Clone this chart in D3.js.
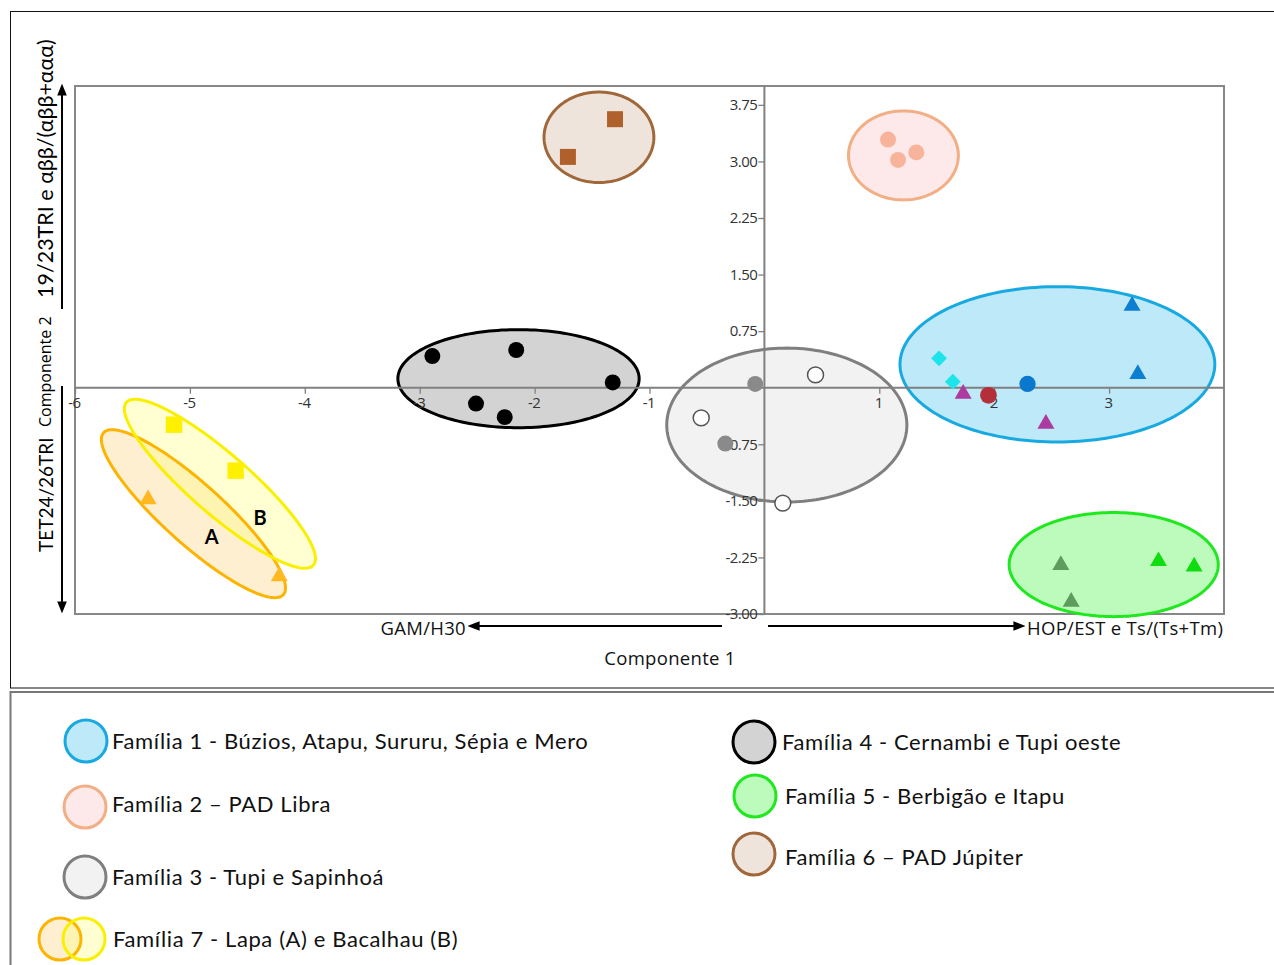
<!DOCTYPE html>
<html>
<head>
<meta charset="utf-8">
<script src="https://cdn.jsdelivr.net/npm/d3@7"></script>
<style>
  body { margin: 0; background: #fff; }
  svg { display: block; }
</style>
</head>
<body>
<svg id="chart" width="1274" height="965"></svg>
<script>
// ---- PCA scores (Componente 1, Componente 2) per family / sample group ----
const fam1BlueTriangles   = [[3.20, 1.085], [3.25, 0.18]];
const fam1BlueCircle      = [[2.29, 0.05]];
const fam1CyanDiamonds    = [[1.52, 0.39], [1.64, 0.08]];
const fam1PurpleTriangles = [[1.73, -0.08], [2.45, -0.48]];
const fam1RedCircle       = [[1.95, -0.10]];
const fam2Circles         = [[1.076, 3.29], [1.322, 3.12], [1.163, 3.02]];
const fam3FilledCircles   = [[-0.08, 0.05], [-0.34, -0.74]];
const fam3OpenCircles     = [[0.445, 0.17], [-0.55, -0.40], [0.16, -1.53]];
const fam4Circles         = [[-2.89, 0.42], [-2.16, 0.50], [-1.32, 0.07], [-2.51, -0.21], [-2.26, -0.39]];
const fam5DarkTriangles   = [[2.58, -2.35], [2.67, -2.84]];
const fam5BrightTriangles = [[3.43, -2.30], [3.74, -2.37]];
const fam6Squares         = [[-1.30, 3.56], [-1.71, 3.06]];
const fam7ATriangles      = [[-5.364, -1.48], [-4.222, -2.50]];
const fam7BSquares        = [[-5.138, -0.49], [-4.602, -1.10]];

// ---- Grouping ellipses: centre and two half-axis vectors, in score units ----
const ellipseKeys    = ["f1", "f2", "f3", "f4", "f5", "f6", "f7A", "f7B"];
const ellipseCenterX = [2.55, 1.21, 0.195, -2.14, 3.04, -1.44, -4.969, -4.739];
const ellipseCenterY = [0.31, 3.08, -0.495, 0.12, -2.345, 3.32, -1.670, -1.273];
const ellipseAxisU   = [[1.37, 0], [0.478, 0], [1.045, 0], [1.05, 0], [0.91, 0], [0.478, 0], [0.782, -1.074], [0.814, -1.079]];
const ellipseAxisV   = [[0, 1.03], [0, 0.59], [0, 1.02], [0, 0.65], [0, 0.69], [0, 0.60], [-0.1746, -0.2956], [-0.171, -0.300]];

// sub-group labels inside family 7
const subgroupLabels = ["A", "B"];
const subgroupLabelX = [-4.81, -4.39];
const subgroupLabelY = [-1.97, -1.71];

// ---- Axis ticks ----
const xDomain = [-6, 4];
const yDomain = [-3, 4];
const xTicks = [-6, -5, -4, -3, -2, -1, 1, 2, 3];
const yTicks = [3.75, 3.00, 2.25, 1.50, 0.75, -0.75, -1.50, -2.25, -3.00];

// ---- Legend ----
const legendLabels = [
  "Família 1 - Búzios, Atapu, Sururu, Sépia e Mero",
  "Família 2 – PAD Libra",
  "Família 3 - Tupi e Sapinhoá",
  "Família 7 - Lapa (A) e Bacalhau (B)",
  "Família 4 - Cernambi e Tupi oeste",
  "Família 5 - Berbigão e Itapu",
  "Família 6 – PAD Júpiter"
];
const legendSwatches = [["f1"], ["f2"], ["f3"], ["f7A", "f7B"], ["f4"], ["f5"], ["f6"]];

// ---- Styles ----
const ellipseStyle = {
  f1:  { fill: "#bde9f8", opacity: 1,    stroke: "#19a9e1" },
  f2:  { fill: "#fde8ea", opacity: 1,    stroke: "#f2ae84" },
  f3:  { fill: "#f2f2f2", opacity: 1,    stroke: "#7f7f7f" },
  f4:  { fill: "#d3d3d3", opacity: 1,    stroke: "#000000" },
  f5:  { fill: "#bdfbbd", opacity: 1,    stroke: "#1fe81f" },
  f6:  { fill: "#eee4dc", opacity: 1,    stroke: "#a0683a" },
  f7A: { fill: "#fbd27c", opacity: 0.35, stroke: "#fdb400" },
  f7B: { fill: "#ffff70", opacity: 0.32, stroke: "#f8f000" }
};

// rotated square used for the diamond markers
const squareDiamond = {
  draw(context, size) {
    const r = Math.sqrt(size / 2);
    context.moveTo(0, -r);
    context.lineTo(r, 0);
    context.lineTo(0, r);
    context.lineTo(-r, 0);
    context.closePath();
  }
};

const series = [
  { data: fam1BlueTriangles,   shape: d3.symbolTriangle, size: 125, fill: "#0c7fd0" },
  { data: fam1BlueCircle,      shape: d3.symbolCircle,   size: 210, fill: "#0b78d0" },
  { data: fam1CyanDiamonds,    shape: squareDiamond,     size: 125, fill: "#1de4ea" },
  { data: fam1PurpleTriangles, shape: d3.symbolTriangle, size: 125, fill: "#ad3aa0" },
  { data: fam1RedCircle,       shape: d3.symbolCircle,   size: 220, fill: "#b3303a" },
  { data: fam2Circles,         shape: d3.symbolCircle,   size: 200, fill: "#f7b49a" },
  { data: fam3FilledCircles,   shape: d3.symbolCircle,   size: 200, fill: "#8a8a8a" },
  { data: fam3OpenCircles,     shape: d3.symbolCircle,   size: 200, fill: "#ffffff", stroke: "#555555" },
  { data: fam4Circles,         shape: d3.symbolCircle,   size: 200, fill: "#000000" },
  { data: fam5DarkTriangles,   shape: d3.symbolTriangle, size: 125, fill: "#5c9c5c" },
  { data: fam5BrightTriangles, shape: d3.symbolTriangle, size: 125, fill: "#10dd10" },
  { data: fam6Squares,         shape: d3.symbolSquare,   size: 256, fill: "#b0602a" },
  { data: fam7ATriangles,      shape: d3.symbolTriangle, size: 125, fill: "#ffb820" },
  { data: fam7BSquares,        shape: d3.symbolSquare,   size: 270, fill: "#fff000" }
];

const svg = d3.select("#chart");

// Outer panels
svg.append("rect").attr("x", 10.5).attr("y", 11.5).attr("width", 1300).attr("height", 676.5)
  .attr("fill", "none").attr("stroke", "#111").attr("stroke-width", 1);
svg.append("path").attr("d", "M10.5,965 V692 H1274")
  .attr("fill", "none").attr("stroke", "#777").attr("stroke-width", 2);

// Plot area
const plot = { left: 75, right: 1224, top: 86, bottom: 614 };
const x = d3.scaleLinear().domain(xDomain).range([plot.left, plot.right]);
const y = d3.scaleLinear().domain(yDomain).range([plot.bottom, plot.top]);

svg.append("rect")
  .attr("x", plot.left).attr("y", plot.top)
  .attr("width", plot.right - plot.left).attr("height", plot.bottom - plot.top)
  .attr("fill", "#fff").attr("stroke", "#888").attr("stroke-width", 2);

// Ellipses
const ellipses = ellipseKeys.map((k, i) => ({
  key: k, cx: ellipseCenterX[i], cy: ellipseCenterY[i], u: ellipseAxisU[i], v: ellipseAxisV[i]
}));
const angles = d3.range(0, 2 * Math.PI, Math.PI / 90);
const ellipsePath = e => d3.line().curve(d3.curveLinearClosed)(
  angles.map(t => [
    x(e.cx + e.u[0] * Math.cos(t) + e.v[0] * Math.sin(t)),
    y(e.cy + e.u[1] * Math.cos(t) + e.v[1] * Math.sin(t))
  ])
);

const eg = svg.append("g");
eg.selectAll("path.fill").data(ellipses).join("path")
  .attr("class", "fill")
  .attr("d", ellipsePath)
  .attr("fill", d => ellipseStyle[d.key].fill)
  .attr("fill-opacity", d => ellipseStyle[d.key].opacity)
  .attr("stroke", "none");
eg.selectAll("path.edge").data(ellipses).join("path")
  .attr("class", "edge")
  .attr("d", ellipsePath)
  .attr("fill", "none")
  .attr("stroke", d => ellipseStyle[d.key].stroke)
  .attr("stroke-width", 3);

// Zero axes with ticks
const axisColor = "#808080";
const tickFont = "'Open Sans', 'Noto Sans', sans-serif";
const hyphen = f => v => f(v).replace("\u2212", "-");

const yAxis = svg.append("g")
  .attr("transform", `translate(${x(0)},0)`)
  .call(d3.axisLeft(y).tickValues(yTicks).tickFormat(hyphen(d3.format(".2f"))).tickSize(6).tickPadding(1));
const xAxis = svg.append("g")
  .attr("transform", `translate(0,${y(0)})`)
  .call(d3.axisBottom(x).tickValues(xTicks).tickFormat(hyphen(d3.format("d"))).tickSize(6).tickPadding(4));

[xAxis, yAxis].forEach(a => {
  a.select(".domain").remove();
  a.selectAll(".tick line").attr("stroke", axisColor).attr("stroke-width", 1.3);
  a.selectAll(".tick text")
    .attr("fill", "#333").attr("font-family", tickFont).attr("font-size", 15)
    .attr("letter-spacing", -0.5);
});
xAxis.selectAll(".tick text").attr("dx", -1);

svg.append("line")
  .attr("x1", plot.left).attr("x2", plot.right).attr("y1", y(0)).attr("y2", y(0))
  .attr("stroke", axisColor).attr("stroke-width", 2);
svg.append("line")
  .attr("x1", x(0)).attr("x2", x(0)).attr("y1", plot.top).attr("y2", plot.bottom)
  .attr("stroke", axisColor).attr("stroke-width", 2);

// Sample markers
const pg = svg.append("g");
series.forEach(s => {
  pg.selectAll(null).data(s.data).join("path")
    .attr("transform", d => `translate(${x(d[0])},${y(d[1])})`)
    .attr("d", d3.symbol().type(s.shape).size(s.size))
    .attr("fill", s.fill)
    .attr("stroke", s.stroke || "none")
    .attr("stroke-width", s.stroke ? 1.5 : 0);
});

// Sub-group letters
svg.selectAll("text.sub").data(subgroupLabels).join("text")
  .attr("class", "sub")
  .attr("x", (d, i) => x(subgroupLabelX[i]))
  .attr("y", (d, i) => y(subgroupLabelY[i]))
  .attr("text-anchor", "middle").attr("dominant-baseline", "central")
  .attr("font-family", "Lato, 'Open Sans', sans-serif").attr("font-weight", 700)
  .attr("font-size", 20).attr("fill", "#000")
  .text(d => d);

// Axis direction arrows
const defs = svg.append("defs");
defs.append("marker").attr("id", "arrow")
  .attr("viewBox", "0 0 10 10").attr("refX", 8).attr("refY", 5)
  .attr("markerWidth", 6).attr("markerHeight", 6).attr("orient", "auto-start-reverse")
  .append("path").attr("d", "M0,1 L10,5 L0,9 Z").attr("fill", "#000");

const arrowLines = [
  [722, 626, 470, 626],
  [768, 626, 1023, 626],
  [62, 309, 62, 86],
  [62, 386, 62, 611]
];
svg.selectAll("line.arrow").data(arrowLines).join("line")
  .attr("class", "arrow")
  .attr("x1", d => d[0]).attr("y1", d => d[1]).attr("x2", d => d[2]).attr("y2", d => d[3])
  .attr("stroke", "#000").attr("stroke-width", 2).attr("marker-end", "url(#arrow)");

// Axis titles
const titleFont = "'Open Sans', 'Noto Sans', sans-serif";
const axisTitle = (tx, ty, anchor, label) =>
  svg.append("text").attr("x", tx).attr("y", ty).attr("text-anchor", anchor)
    .attr("dominant-baseline", "central")
    .attr("font-family", titleFont).attr("font-size", 18.5).attr("letter-spacing", 0.3)
    .attr("fill", "#111").text(label);
axisTitle(466, 627, "end", "GAM/H30");
axisTitle(1027, 627, "start", "HOP/EST e Ts/(Ts+Tm)");
axisTitle(670, 657, "middle", "Componente 1");

const legendFont = "Lato, 'Open Sans', sans-serif";
const yTitle = svg.append("g").attr("transform", "translate(45,0) rotate(-90)");
yTitle.append("text").attr("x", -552).attr("y", 0).attr("dominant-baseline", "central")
  .attr("font-family", legendFont).attr("font-size", 19).attr("fill", "#000").text("TET24/26TRI");
yTitle.append("text").attr("x", -427).attr("y", 0).attr("dominant-baseline", "central")
  .attr("font-family", titleFont).attr("font-size", 16).attr("fill", "#000").text("Componente 2");
yTitle.append("text").attr("x", -298).attr("y", 0).attr("dominant-baseline", "central")
  .attr("font-family", legendFont).attr("font-size", 21.5).attr("fill", "#000")
  .text("19/23TRI e αββ/(αββ+ααα)");

// Legend
const legendPos = [
  [86, 741], [85, 807], [85, 877], [84, 939],
  [754, 742], [755, 796], [754, 854]
];
const legendTextX = [112, 112, 112, 113, 782, 785, 785];
const legendTextY = [740, 803, 876, 938, 741, 795, 856];
const lg = svg.append("g");
legendLabels.forEach((label, i) => {
  const [cx, cy] = legendPos[i];
  const keys = legendSwatches[i];
  keys.forEach((k, j) => {
    const ox = keys.length > 1 ? (j === 0 ? -24 : 0) : 0;
    const st = ellipseStyle[k];
    lg.append("circle").attr("cx", cx + ox).attr("cy", cy).attr("r", 21)
      .attr("fill", st.fill).attr("fill-opacity", st.opacity).attr("stroke", "none");
  });
  keys.forEach((k, j) => {
    const ox = keys.length > 1 ? (j === 0 ? -24 : 0) : 0;
    lg.append("circle").attr("cx", cx + ox).attr("cy", cy).attr("r", 21)
      .attr("fill", "none").attr("stroke", ellipseStyle[k].stroke).attr("stroke-width", 3);
  });
  lg.append("text").attr("x", legendTextX[i]).attr("y", legendTextY[i])
    .attr("dominant-baseline", "central")
    .attr("font-family", legendFont).attr("font-size", 22).attr("letter-spacing", 0.6)
    .attr("fill", "#111")
    .text(label);
});
</script>
</body>
</html>
